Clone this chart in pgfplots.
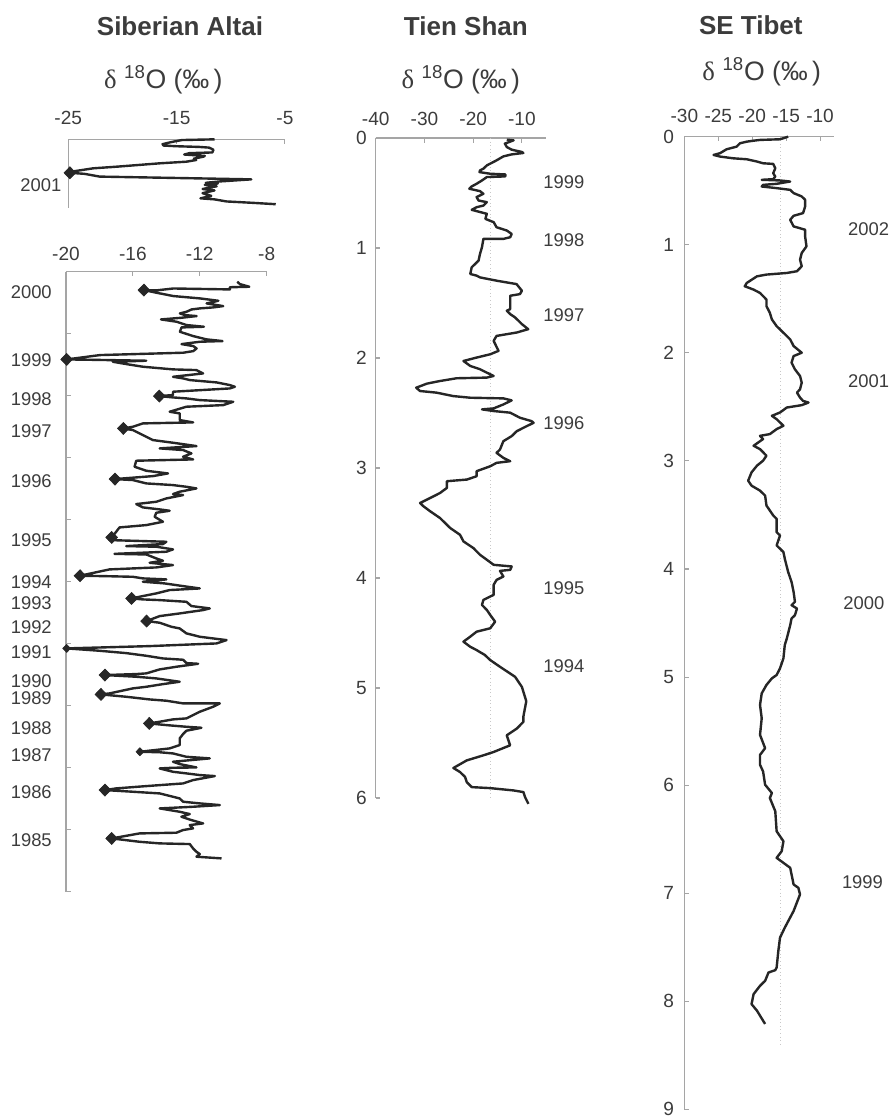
\documentclass[border=0pt]{standalone}
\usepackage{fontspec}
\setmainfont{Liberation Sans}
\newfontfamily\grk{Liberation Serif}
\usepackage{pgfplots}
\pgfplotsset{compat=1.18}
\definecolor{lc}{RGB}{38,38,38}
\definecolor{axgray}{RGB}{165,165,165}
\definecolor{txt}{RGB}{60,60,60}
\definecolor{dotgray}{RGB}{200,200,200}
\newcommand{\yl}{\fontsize{13.8}{16}\selectfont}
\newcommand{\dlab}{{\grk δ}\,\textsuperscript{\,18}O (‰\,)}
\pgfplotsset{
 prof/.style={
   scale only axis, anchor=north west, y dir=reverse,
   axis x line=top, axis y line=left,
   axis line style={-, draw=axgray, line width=0.8pt},
   every tick/.style={draw=axgray, line width=0.8pt},
   major tick length=3.5pt, tick align=inside,
   ticklabel style={font=\fontsize{14.3}{16}\selectfont, text=txt},
   clip=false,
 },
 dat/.style={draw=lc, line width=1.8pt, mark=none, line join=round},
 dia/.style={only marks, mark=diamond*, mark size=4.5pt, mark options={fill=lc, draw=lc, line width=0.5pt, xscale=1.3}},
}
\begin{document}
\begin{tikzpicture}
\useasboundingbox (0,0) rectangle (666.75pt,-838.5pt);
% titles
\node[font=\fontsize{19.5}{22}\selectfont\bfseries, text=txt] at (135pt,-20pt) {Siberian Altai};
\node[font=\fontsize{19.5}{22}\selectfont\bfseries, text=txt] at (349.4pt,-20pt) {Tien Shan};
\node[font=\fontsize{19.5}{22}\selectfont\bfseries, text=txt] at (563.1pt,-18.8pt) {SE Tibet};
\node[font=\fontsize{20}{22}\selectfont, text=txt] at (122.5pt,-60pt) {\dlab};
\node[font=\fontsize{20}{22}\selectfont, text=txt] at (345.6pt,-60pt) {\dlab};
\node[font=\fontsize{20}{22}\selectfont, text=txt] at (571.3pt,-53.8pt) {\dlab};

% ---------------- Siberian Altai, 2001 ----------------
\begin{axis}[prof, at={(51.2pt,-104.5pt)}, width=162.5pt, height=51.75pt,
  xmin=-25, xmax=-5, ymin=0, ymax=1,
  xtick={-25,-15,-5}, xticklabels={-25,-15,-5}, xticklabel shift=7.3pt,
  ytick=\empty]
\addplot[dat] coordinates {
(-11.5,0.00) (-14.5,0.01) (-15.5,0.04) (-16.3,0.07) (-16.2,0.09) (-15.0,0.10) (-12.9,0.11) (-12.0,0.12)
(-11.6,0.15) (-11.7,0.19) (-13.8,0.20) (-14.3,0.22) (-12.4,0.24) (-12.5,0.25) (-13.4,0.28) (-13.2,0.30)
(-14.1,0.324) (-16.6,0.348) (-20.5,0.396) (-22.7,0.42) (-24.7,0.468) (-24.85,0.485) (-23.5,0.50) (-22.1,0.54)
(-15.0,0.56) (-9.8,0.575) (-8.1,0.58) (-11.0,0.61) (-12.3,0.63) (-11.2,0.64) (-12.4,0.66) (-11.3,0.68)
(-12.6,0.72) (-11.5,0.74) (-12.6,0.78) (-11.8,0.82) (-12.8,0.855) (-11.5,0.87) (-10.4,0.90) (-8.0,0.92) (-5.85,0.94)
};
\addplot[dia] coordinates {(-24.85,0.485)};
\node[anchor=east, inner sep=0pt, xshift=-5pt, font=\yl, text=txt] at (axis cs:-25,0.66) {2001};
\end{axis}

% ---------------- Siberian Altai, main ----------------
\begin{axis}[prof, at={(49.5pt,-203.8pt)}, width=150.5pt, height=465pt,
  xmin=-20, xmax=-8, ymin=0, ymax=10,
  xtick={-20,-16,-12,-8}, xticklabels={-20,-16,-12,-8}, xticklabel shift=4.6pt,
  ytick={0,1,2,3,4,5,6,7,8,9,10}, yticklabels={}]
\addplot[dat] coordinates {
(-9.76,0.161) (-9.60,0.199) (-9.04,0.242) (-10.2,0.250) (-10.2,0.285) (-13.58,0.27) (-14.58,0.30) (-15.34,0.296)
(-14.58,0.339) (-13.58,0.392) (-11.99,0.430) (-10.89,0.468) (-11.59,0.511) (-10.60,0.554) (-11.19,0.575) (-11.99,0.591)
(-12.49,0.608) (-12.79,0.645) (-13.19,0.672) (-12.89,0.699) (-12.19,0.715) (-13.09,0.742) (-14.32,0.769) (-13.39,0.806)
(-12.79,0.860) (-11.75,0.887) (-13.09,0.898) (-13.19,0.968) (-12.39,1.038) (-11.59,1.091) (-10.64,1.118) (-11.99,1.129)
(-13.09,1.167) (-12.39,1.199) (-12.19,1.237) (-12.39,1.280) (-12.99,1.306) (-17.97,1.344) (-19.96,1.414) (-18.5,1.42)
(-15.2,1.435) (-17.2,1.452) (-16.4,1.489) (-15.4,1.532) (-13.6,1.575) (-12.2,1.586) (-11.8,1.640) (-13.6,1.694)
(-13.0,1.720) (-12.6,1.747) (-11.0,1.785) (-10.2,1.828) (-9.9,1.855) (-10.2,1.882) (-13.6,1.935) (-13.6,1.989)
(-14.42,2.005) (-13.6,2.027) (-12.8,2.043) (-12.0,2.070) (-10.0,2.097) (-10.6,2.151) (-12.8,2.177) (-13.8,2.258)
(-13.2,2.285) (-13.2,2.392) (-12.4,2.430) (-15.4,2.446) (-16.0,2.500) (-16.57,2.527) (-16.0,2.554) (-15.6,2.608)
(-15.4,2.634) (-14.8,2.715) (-13.6,2.758) (-12.2,2.812) (-14.4,2.849) (-13.0,2.876) (-12.5,2.930) (-13.0,2.984)
(-12.4,3.027) (-15.8,3.048) (-15.9,3.145) (-15.2,3.210) (-13.9,3.253) (-14.8,3.296) (-17.07,3.344) (-16.0,3.360)
(-15.2,3.414) (-13.6,3.441) (-12.8,3.468) (-12.2,3.495) (-13.2,3.548) (-13.6,3.586) (-13.0,3.602) (-14.0,3.656)
(-14.6,3.710) (-15.8,3.747) (-15.4,3.801) (-14.4,3.833) (-13.8,3.855) (-14.6,3.887) (-14.7,3.952) (-14.2,4.032)
(-15.2,4.086) (-16.8,4.124) (-17.0,4.194) (-17.27,4.285) (-17.4,4.328) (-14.0,4.355) (-14.2,4.392) (-16.4,4.425)
(-14.6,4.435) (-13.6,4.478) (-14.0,4.516) (-17.1,4.55) (-15.2,4.56) (-14.6,4.624) (-14.2,4.661) (-15.0,4.694)
(-13.6,4.731) (-14.6,4.769) (-17.4,4.801) (-19.16,4.903) (-17.6,4.91) (-16.0,4.92) (-15.4,4.946) (-14.0,4.962)
(-15.4,5.0) (-14.1,5.027) (-13.0,5.070) (-12.0,5.108) (-13.8,5.134) (-14.6,5.188) (-15.6,5.242) (-16.08,5.269)
(-15.4,5.285) (-14.4,5.296) (-12.8,5.323) (-12.5,5.392) (-11.4,5.430) (-11.8,5.457) (-13.2,5.511) (-14.4,5.554)
(-15.18,5.634) (-14.4,5.661) (-13.7,5.726) (-13.2,5.753) (-12.8,5.833) (-12.0,5.887) (-11.2,5.914) (-10.4,5.941)
(-11.0,5.995) (-15.0,6.038) (-19.96,6.075) (-18.0,6.113) (-16.4,6.151) (-15.2,6.194) (-14.2,6.237) (-13.0,6.258)
(-12.8,6.312) (-12.1,6.323) (-13.4,6.371) (-14.4,6.414) (-15.2,6.478) (-15.8,6.489) (-17.67,6.505) (-15.8,6.532)
(-14.6,6.559) (-13.2,6.613) (-14.2,6.651) (-15.2,6.694) (-16.0,6.720) (-17.4,6.801) (-17.91,6.817) (-16.4,6.855)
(-15.0,6.898) (-14.0,6.919) (-13.0,6.962) (-10.8,6.962) (-11.2,7.016) (-12.0,7.097) (-12.4,7.151) (-12.8,7.204)
(-13.6,7.220) (-14.4,7.258) (-15.02,7.285) (-14.0,7.312) (-12.8,7.339) (-11.9,7.355) (-12.8,7.403) (-13.0,7.457)
(-13.2,7.527) (-13.2,7.634) (-13.8,7.688) (-15.58,7.742) (-14.4,7.75) (-13.6,7.769) (-12.8,7.823) (-11.4,7.849)
(-13.6,7.903) (-13.2,7.941) (-12.2,7.995) (-13.6,8.0) (-14.4,8.011) (-13.6,8.065) (-12.8,8.091) (-12.0,8.118)
(-11.1,8.134) (-12.4,8.199) (-13.0,8.253) (-15.2,8.296) (-17.0,8.333) (-17.67,8.360) (-16.0,8.387) (-14.4,8.414)
(-13.2,8.495) (-13.0,8.548) (-12.0,8.575) (-10.8,8.602) (-12.4,8.629) (-14.4,8.656) (-13.2,8.710) (-12.6,8.747)
(-13.1,8.790) (-12.5,8.844) (-11.8,8.898) (-12.6,8.925) (-12.4,8.978) (-13.0,9.005) (-13.4,9.048) (-15.6,9.059)
(-17.27,9.140) (-15.6,9.194) (-14.4,9.220) (-12.6,9.231) (-12.4,9.301) (-12.2,9.355) (-12.0,9.392) (-12.2,9.435) (-10.7,9.462)
};
\addplot[dia] coordinates {(-15.34,0.296) (-19.96,1.414) (-14.42,2.005) (-16.57,2.527) (-17.07,3.344) (-17.27,4.285)
 (-19.16,4.903) (-16.08,5.269) (-15.18,5.634) (-17.67,6.505) (-17.91,6.817) (-15.02,7.285) (-17.67,8.360) (-17.27,9.140)};
\addplot[dia, mark size=3pt] coordinates {(-19.96,6.075) (-15.58,7.742)};
\node[anchor=east, inner sep=0pt, xshift=-10.5pt, font=\yl, text=txt] at (axis cs:-20,0.327) {2000};
\node[anchor=east, inner sep=0pt, xshift=-10.5pt, font=\yl, text=txt] at (axis cs:-20,1.427) {1999};
\node[anchor=east, inner sep=0pt, xshift=-10.5pt, font=\yl, text=txt] at (axis cs:-20,2.056) {1998};
\node[anchor=east, inner sep=0pt, xshift=-10.5pt, font=\yl, text=txt] at (axis cs:-20,2.573) {1997};
\node[anchor=east, inner sep=0pt, xshift=-10.5pt, font=\yl, text=txt] at (axis cs:-20,3.379) {1996};
\node[anchor=east, inner sep=0pt, xshift=-10.5pt, font=\yl, text=txt] at (axis cs:-20,4.327) {1995};
\node[anchor=east, inner sep=0pt, xshift=-10.5pt, font=\yl, text=txt] at (axis cs:-20,5.0) {1994};
\node[anchor=east, inner sep=0pt, xshift=-10.5pt, font=\yl, text=txt] at (axis cs:-20,5.35) {1993};
\node[anchor=east, inner sep=0pt, xshift=-10.5pt, font=\yl, text=txt] at (axis cs:-20,5.73) {1992};
\node[anchor=east, inner sep=0pt, xshift=-10.5pt, font=\yl, text=txt] at (axis cs:-20,6.13) {1991};
\node[anchor=east, inner sep=0pt, xshift=-10.5pt, font=\yl, text=txt] at (axis cs:-20,6.61) {1990};
\node[anchor=east, inner sep=0pt, xshift=-10.5pt, font=\yl, text=txt] at (axis cs:-20,6.88) {1989};
\node[anchor=east, inner sep=0pt, xshift=-10.5pt, font=\yl, text=txt] at (axis cs:-20,7.36) {1988};
\node[anchor=east, inner sep=0pt, xshift=-10.5pt, font=\yl, text=txt] at (axis cs:-20,7.79) {1987};
\node[anchor=east, inner sep=0pt, xshift=-10.5pt, font=\yl, text=txt] at (axis cs:-20,8.40) {1986};
\node[anchor=east, inner sep=0pt, xshift=-10.5pt, font=\yl, text=txt] at (axis cs:-20,9.17) {1985};
\end{axis}

% ---------------- Tien Shan ----------------
\begin{axis}[prof, at={(281.8pt,-103.5pt)}, width=127.9pt, height=495pt,
  xmin=-40, xmax=-5, ymin=0, ymax=6,
  xtick={-40,-30,-20,-10}, xticklabels={-40,-30,-20,-10}, xticklabel shift=5.6pt,
  ytick={0,1,2,3,4,5,6}, yticklabels={0,1,2,3,4,5,6}, yticklabel shift=3.2pt]
\addplot[draw=dotgray, line width=0.7pt, dotted] coordinates {(-16.4,0) (-16.4,6)};
\addplot[dat] coordinates {
(-13.1,0.015) (-11.7,0.021) (-13.5,0.051) (-13.1,0.082) (-12.1,0.106) (-10.0,0.127) (-9.7,0.136) (-12.1,0.149)
(-13.8,0.167) (-15.2,0.203) (-17.2,0.249) (-17.9,0.279) (-18.6,0.294) (-18.7,0.310) (-16.5,0.325) (-13.4,0.331)
(-13.4,0.349) (-17.2,0.355) (-18.2,0.386) (-19.3,0.416) (-20.3,0.440) (-20.8,0.461) (-18.6,0.483) (-17.9,0.507)
(-19.3,0.537) (-18.9,0.568) (-17.2,0.583) (-17.9,0.614) (-19.3,0.629) (-20.3,0.653) (-17.2,0.689) (-17.5,0.735)
(-15.8,0.765) (-15.2,0.811) (-13.1,0.841) (-12.1,0.872) (-12.4,0.902) (-13.8,0.917) (-17.9,0.917) (-18.2,0.993)
(-18.6,1.054) (-18.9,1.115) (-20.3,1.175) (-20.6,1.236) (-19.3,1.251) (-18.6,1.267) (-15.2,1.297) (-11.1,1.328)
(-10.0,1.388) (-10.4,1.419) (-12.4,1.434) (-12.4,1.495) (-12.4,1.555) (-13.1,1.570) (-12.4,1.601) (-11.4,1.631)
(-10.0,1.692) (-8.7,1.738) (-11.05,1.768) (-15.2,1.799) (-15.8,1.844) (-14.8,1.935) (-16.5,1.966) (-19.3,1.996)
(-22.0,2.027) (-20.6,2.072) (-18.6,2.102) (-17.2,2.133) (-15.8,2.163) (-17.2,2.178) (-23.4,2.184) (-26.8,2.209)
(-29.5,2.233) (-31.7,2.270) (-30.9,2.300) (-27.5,2.315) (-24.1,2.346) (-20.6,2.361) (-13.8,2.367) (-12.1,2.385)
(-13.8,2.422) (-15.8,2.458) (-18.2,2.467) (-15.8,2.482) (-12.4,2.497) (-10.4,2.543) (-8.0,2.574) (-7.6,2.589)
(-9.0,2.619) (-11.05,2.665) (-12.1,2.710) (-13.8,2.756) (-14.5,2.832) (-15.2,2.862) (-13.8,2.908) (-12.4,2.938)
(-15.2,2.953) (-16.5,2.984) (-19.3,3.029) (-19.3,3.075) (-21.3,3.105) (-25.4,3.120) (-25.4,3.181) (-26.8,3.227)
(-28.8,3.272) (-30.9,3.318) (-30.2,3.348) (-28.8,3.394) (-26.8,3.455) (-24.7,3.546) (-22.7,3.607) (-22.0,3.667)
(-19.95,3.728) (-18.6,3.789) (-17.2,3.834) (-15.8,3.880) (-12.1,3.895) (-12.4,3.926) (-14.5,3.935) (-13.8,3.986)
(-15.2,4.017) (-15.8,4.062) (-15.8,4.153) (-17.9,4.199) (-18.2,4.245) (-17.2,4.290) (-16.5,4.336) (-15.5,4.397)
(-16.5,4.457) (-19.3,4.488) (-20.6,4.533) (-22.0,4.579) (-20.6,4.625) (-19.3,4.655) (-17.6,4.700) (-16.5,4.746)
(-14.5,4.807) (-11.4,4.898) (-10.0,4.99) (-9.1,5.12) (-9.7,5.26) (-9.7,5.308) (-11.06,5.369) (-13.11,5.430)
(-12.42,5.521) (-15.84,5.582) (-17.9,5.612) (-21.32,5.658) (-24.06,5.727) (-22.69,5.764) (-21.66,5.809) (-21.32,5.855)
(-20.29,5.901) (-16.53,5.910) (-11.74,5.931) (-9.69,5.946) (-9.35,5.992) (-8.66,6.053)
};
\node[anchor=west, inner sep=0pt, font=\yl, text=txt] at (axis cs:-5.65,0.397) {1999};
\node[anchor=west, inner sep=0pt, font=\yl, text=txt] at (axis cs:-5.65,0.927) {1998};
\node[anchor=west, inner sep=0pt, font=\yl, text=txt] at (axis cs:-5.65,1.609) {1997};
\node[anchor=west, inner sep=0pt, font=\yl, text=txt] at (axis cs:-5.65,2.594) {1996};
\node[anchor=west, inner sep=0pt, font=\yl, text=txt] at (axis cs:-5.65,4.094) {1995};
\node[anchor=west, inner sep=0pt, font=\yl, text=txt] at (axis cs:-5.65,4.80) {1994};
\end{axis}

% ---------------- SE Tibet ----------------
\begin{axis}[prof, at={(513.3pt,-102.5pt)}, width=111.9pt, height=729.5pt,
  xmin=-30, xmax=-8, ymin=0, ymax=9,
  xtick={-30,-25,-20,-15,-10}, xticklabels={-30,-25,-20,-15,-10}, xticklabel shift=7.2pt,
  ytick={0,1,2,3,4,5,6,7,8,9}, yticklabels={0,1,2,3,4,5,6,7,8,9}, yticklabel shift=4.2pt]
\addplot[draw=dotgray, line width=0.7pt, dotted] coordinates {(-15.9,0) (-15.9,8.41)};
\addplot[dat] coordinates {
(-14.7,0.0) (-15.9,0.024) (-18.85,0.030) (-19.8,0.037) (-20.8,0.046) (-21.8,0.061) (-22.3,0.092) (-23.8,0.117)
(-24.75,0.153) (-25.7,0.169) (-24.75,0.184) (-22.8,0.200) (-20.8,0.209) (-19.3,0.230) (-18.4,0.246) (-16.9,0.252)
(-16.6,0.292) (-16.9,0.338) (-16.6,0.369) (-16.9,0.393) (-18.6,0.399) (-15.9,0.405) (-14.4,0.415) (-16.4,0.436)
(-18.4,0.446) (-18.6,0.461) (-16.4,0.476) (-14.4,0.492) (-13.9,0.522) (-12.7,0.553) (-12.2,0.584) (-12.2,0.646)
(-12.5,0.707) (-13.9,0.732) (-14.4,0.769) (-13.9,0.830) (-12.2,0.861) (-12.2,0.923) (-12.0,1.015) (-12.7,1.076)
(-12.95,1.138) (-12.7,1.199) (-13.4,1.245) (-14.9,1.261) (-17.9,1.276) (-19.3,1.292) (-20.8,1.353) (-21.1,1.384)
(-19.8,1.415) (-18.85,1.446) (-17.9,1.507) (-17.9,1.568) (-17.4,1.630) (-17.1,1.691) (-16.4,1.753) (-15.4,1.814)
(-14.4,1.876) (-13.9,1.937) (-12.7,1.999) (-13.9,2.030) (-14.2,2.091) (-13.7,2.153) (-12.95,2.214) (-12.7,2.276)
(-12.95,2.337) (-13.4,2.368) (-12.95,2.414) (-12.5,2.445) (-11.7,2.460) (-12.7,2.484) (-14.9,2.506) (-15.9,2.552)
(-17.1,2.583) (-16.4,2.614) (-15.4,2.675) (-16.4,2.706) (-17.4,2.752) (-18.85,2.768) (-18.4,2.798) (-19.8,2.860)
(-18.85,2.891) (-17.9,2.952) (-18.4,2.998) (-19.3,3.044) (-20.1,3.106) (-20.6,3.183) (-20.1,3.229) (-18.85,3.275)
(-18.1,3.321) (-17.9,3.413) (-16.9,3.505) (-16.4,3.536) (-16.4,3.659) (-15.9,3.690) (-16.4,3.782) (-15.4,3.843)
(-15.2,3.905) (-14.7,4.028) (-14.2,4.120) (-13.9,4.212) (-13.7,4.304) (-14.2,4.335) (-13.4,4.366) (-13.7,4.427)
(-14.2,4.458) (-14.4,4.520) (-14.9,4.643) (-15.2,4.704) (-15.4,4.827) (-15.9,4.919) (-16.4,4.981) (-17.1,5.012)
(-17.9,5.073) (-18.6,5.151) (-18.85,5.258) (-18.6,5.381) (-18.85,5.535) (-18.1,5.658) (-18.85,5.720) (-18.85,5.812)
(-18.4,5.873) (-18.1,5.996) (-17.1,6.073) (-17.4,6.119) (-16.6,6.242) (-16.4,6.427) (-15.4,6.519) (-15.65,6.611)
(-16.4,6.673) (-15.4,6.719) (-14.4,6.765) (-13.9,6.919) (-13.2,6.950) (-12.95,7.011) (-13.9,7.165) (-15.2,7.319)
(-15.9,7.411) (-16.15,7.534) (-16.4,7.688) (-16.6,7.712) (-17.6,7.734) (-18.1,7.811) (-18.85,7.857) (-19.8,7.934)
(-20.1,8.026) (-19.3,8.087) (-18.1,8.210)
};
\node[anchor=west, inner sep=0pt, font=\yl, text=txt] at (axis cs:-5.9,0.86) {2002};
\node[anchor=west, inner sep=0pt, font=\yl, text=txt] at (axis cs:-5.9,2.26) {2001};
\node[anchor=west, inner sep=0pt, font=\yl, text=txt] at (axis cs:-6.6,4.32) {2000};
\node[anchor=west, inner sep=0pt, font=\yl, text=txt] at (axis cs:-6.8,6.90) {1999};
\end{axis}
\end{tikzpicture}
\end{document}
